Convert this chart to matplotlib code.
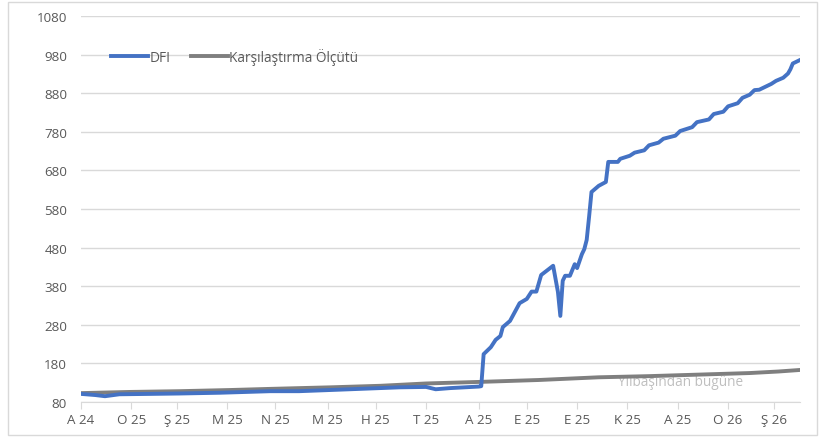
import matplotlib.pyplot as plt
from matplotlib.patches import Rectangle

# trading-day index (0 = A 24) and index values
dfi_days = [0, 6, 10, 16, 29, 41, 58, 79, 91, 108, 133, 144, 148, 154, 166, 167,
            168, 171, 173, 175, 176, 179, 181, 183, 186, 188, 190, 192, 197, 199,
            200, 201, 202, 204, 206, 207, 209, 210, 211, 212, 213, 216, 219, 220,
            224, 225, 229, 231, 235, 237, 241, 243, 248, 250, 255, 257, 262, 264,
            268, 270, 274, 276, 279, 281, 283, 288, 290, 293, 295, 296, 297, 300]
dfi_vals = [101, 98, 95, 100, 101, 102, 104, 108, 108, 112, 118, 119, 113, 116, 120, 121,
            204, 222, 241, 251, 274, 290, 313, 336, 347, 366, 366, 409, 433, 365,
            303, 394, 407, 407, 437, 427, 463, 476, 500, 560, 624, 640, 650, 702,
            702, 710, 718, 726, 732, 745, 752, 762, 770, 782, 792, 805, 812, 826,
            832, 846, 854, 868, 876, 888, 889, 904, 912, 920, 931, 942, 957, 966]

bench_days = [0, 20, 41, 62, 79, 104, 125, 144, 166, 191, 216, 237, 258, 279, 291, 300]
bench_vals = [103, 106, 108, 111, 114, 118, 122, 128, 132, 137, 144, 147, 151, 155, 159, 163]

tick_days = [0, 21, 40, 61, 81, 103, 123, 144, 166, 186, 207, 228, 249, 270, 289]
tick_labels = ["A 24", "O 25", "Ş 25", "M 25", "N 25", "M 25", "H 25", "T 25",
               "A 25", "E 25", "E 25", "K 25", "A 25", "O 26", "Ş 26"]

plt.rcParams['font.family'] = ['Open Sans', 'DejaVu Sans']

fig = plt.figure(figsize=(8.25, 4.39), dpi=100)
fig.patches.append(Rectangle((8 / 825, 3 / 439), 809 / 825, 433 / 439, transform=fig.transFigure,
                             fill=False, edgecolor='#d9d9d9', linewidth=1))
ax = fig.add_axes([81 / 825, 1 - 403 / 439, 719 / 825, 386 / 439])

ax.text(224, 133, "Yılbaşından bugüne", color='#bfbfbf', fontsize=9.8, va='center', ha='left', zorder=1)
ax.plot(dfi_days, dfi_vals, color='#4472c4', linewidth=2.8, label='DFI', zorder=3,
        solid_joinstyle='round')
ax.plot(bench_days, bench_vals, color='#7f7f7f', linewidth=2.8, label='Karşılaştırma Ölçütü', zorder=2)

ax.set_xlim(0, 300)
ax.set_ylim(80, 1080)
ax.set_yticks(range(80, 1081, 100))
ax.set_xticks(tick_days)
ax.set_xticklabels(tick_labels)
ax.grid(axis='y', color='#d9d9d9', linewidth=1)
ax.set_axisbelow(True)
for s in ['top', 'right', 'left']:
    ax.spines[s].set_visible(False)
ax.spines['bottom'].set_color('#d9d9d9')
ax.tick_params(axis='y', length=0, labelsize=9.6, labelcolor='#595959', pad=10)
ax.tick_params(axis='x', length=5, color='#d9d9d9', labelsize=9.6, labelcolor='#595959', pad=3)

ax.legend(loc='upper left', bbox_to_anchor=(0.025, 0.95), ncol=2, frameon=False, fontsize=9.8,
          handlelength=2.7, handletextpad=0.1, columnspacing=1.5, labelcolor='#595959')

fig.savefig('out.png', dpi=100)
